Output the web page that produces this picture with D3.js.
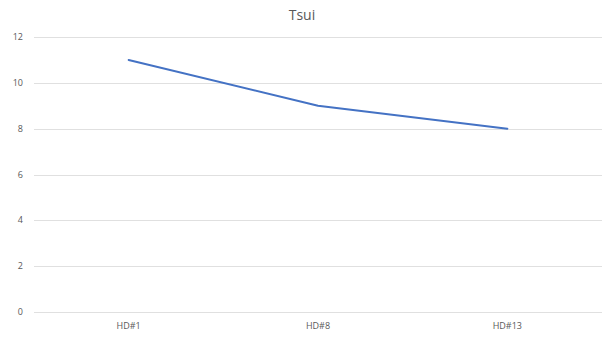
<!DOCTYPE html>
<html>
<head>
<meta charset="utf-8">
<script src="https://cdn.jsdelivr.net/npm/d3@7"></script>
<style>
  html, body { margin: 0; padding: 0; background: #fff; }
  svg { display: block; font-family: "Segoe UI", "Open Sans", "Noto Sans", sans-serif; }
</style>
</head>
<body>
<svg id="chart" width="604" height="337"></svg>
<script>
const chartTitle = "Tsui";
const categories = ["HD#1", "HD#8", "HD#13"];
const values = [11, 9, 8];
const yTicks = [0, 2, 4, 6, 8, 10, 12];

const width = 604, height = 337;
const margin = { top: 37, right: 2, bottom: 25, left: 34 };

const svg = d3.select("#chart");

const x = d3.scaleBand()
  .domain(categories)
  .range([margin.left, width - margin.right]);

const y = d3.scaleLinear()
  .domain([0, 12])
  .range([height - margin.bottom, margin.top]);

// horizontal gridlines
svg.append("g")
  .selectAll("line")
  .data(yTicks)
  .join("line")
  .attr("x1", margin.left)
  .attr("x2", width - margin.right)
  .attr("y1", d => Math.round(y(d)) + 0.5)
  .attr("y2", d => Math.round(y(d)) + 0.5)
  .attr("stroke", "#e0e0e0")
  .attr("stroke-width", 1);

// y tick labels
svg.append("g")
  .selectAll("text")
  .data(yTicks)
  .join("text")
  .attr("x", 23)
  .attr("y", d => y(d))
  .attr("dy", "0.35em")
  .attr("text-anchor", "end")
  .attr("font-size", 9)
  .attr("fill", "#595959")
  .text(d => d);

// x category labels
svg.append("g")
  .selectAll("text")
  .data(categories)
  .join("text")
  .attr("x", d => x(d) + x.bandwidth() / 2)
  .attr("y", height - margin.bottom + 17)
  .attr("text-anchor", "middle")
  .attr("font-size", 9)
  .attr("fill", "#595959")
  .text(d => d);

// series line
const line = d3.line()
  .x((d, i) => x(categories[i]) + x.bandwidth() / 2)
  .y(d => y(d));

svg.append("path")
  .datum(values)
  .attr("fill", "none")
  .attr("stroke", "#4472c4")
  .attr("stroke-width", 2)
  .attr("stroke-linejoin", "round")
  .attr("stroke-linecap", "round")
  .attr("d", line);

// title
svg.append("text")
  .attr("x", width / 2)
  .attr("y", 20)
  .attr("text-anchor", "middle")
  .attr("font-size", 14)
  .attr("fill", "#595959")
  .text(chartTitle);
</script>
</body>
</html>
